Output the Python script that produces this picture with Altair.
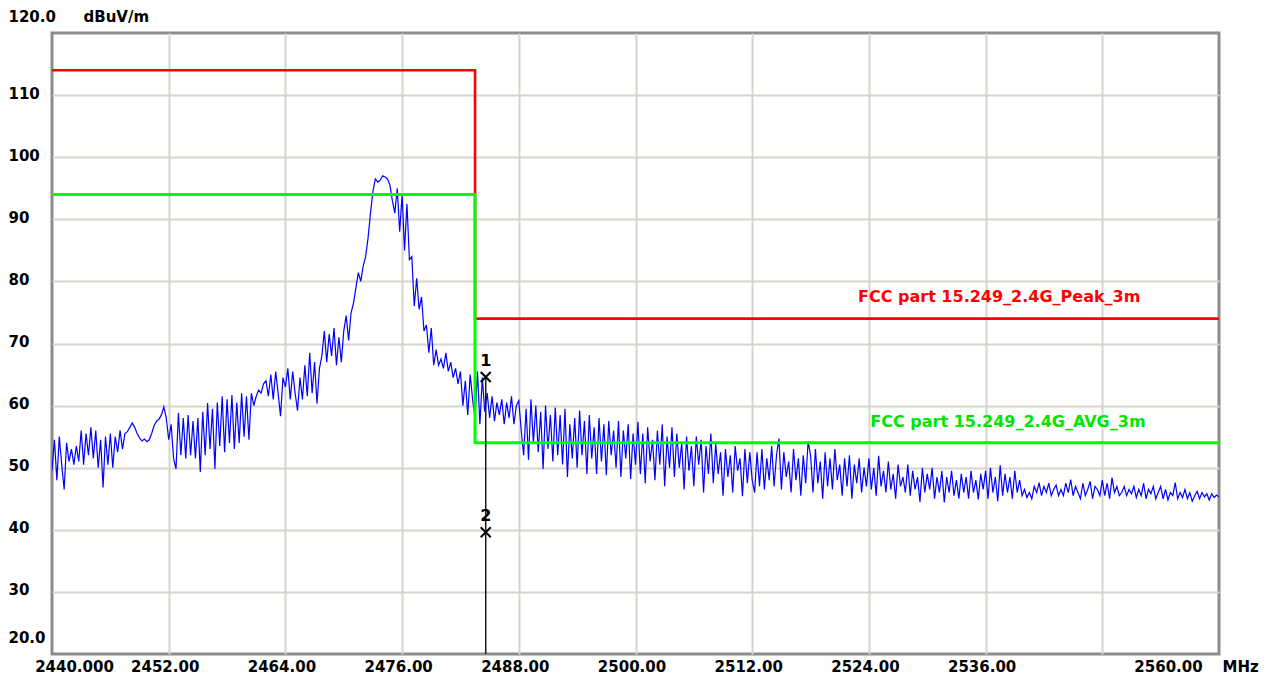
import altair as alt
import pandas as pd

# ---------------- data ----------------
f_start = 2440.0
f_step = 0.25
trace_db = [
    49.5, 54.5, 48.0, 55.0, 50.5, 46.5, 54.0, 51.0,   # 2440
    53.0, 50.5, 53.5, 51.0, 56.0, 50.5, 55.5, 52.0,   # 2442
    56.5, 51.5, 56.0, 50.0, 54.5, 46.8, 55.0, 50.5,   # 2444
    55.5, 50.0, 55.0, 52.5, 56.0, 53.0, 55.5, 55.8,   # 2446
    56.5, 57.2, 56.5, 55.5, 54.8, 54.3, 54.6, 54.2,   # 2448
    54.5, 55.5, 56.8, 57.5, 57.8, 58.5, 59.8, 58.0,   # 2450
    54.5, 57.0, 51.5, 49.8, 58.8, 52.0, 58.0, 51.5,   # 2452
    58.5, 52.0, 57.5, 51.5, 58.0, 49.3, 59.0, 52.0,   # 2454
    60.4, 53.0, 59.5, 49.8, 60.5, 53.5, 61.5, 52.5,   # 2456
    61.0, 54.0, 61.7, 53.0, 60.5, 54.0, 62.0, 55.0,   # 2458
    61.5, 54.5, 62.0, 60.0, 61.5, 62.5, 62.0, 63.5,   # 2460
    64.0, 61.5, 65.0, 61.0, 65.5, 62.0, 58.3, 64.5,   # 2462
    63.0, 66.0, 61.0, 65.5, 62.0, 59.2, 64.5, 61.0,   # 2464
    66.5, 61.5, 68.5, 62.0, 67.0, 60.3, 66.0, 68.0,   # 2466
    72.0, 67.0, 71.5, 68.0, 72.5, 66.5, 71.0, 67.0,   # 2468
    72.0, 74.5, 70.5, 74.9, 76.5, 79.0, 81.4, 80.0,   # 2470
    82.5, 84.0, 87.0, 91.0, 94.5, 96.5, 96.0, 96.3,   # 2472
    97.0, 96.8, 96.5, 95.5, 93.0, 91.0, 95.0, 88.0,   # 2474
    94.0, 85.0, 92.5, 83.5, 84.0, 76.0, 80.5, 75.5,   # 2476
    77.5, 72.0, 73.0, 68.5, 72.5, 66.5, 69.0, 66.5,   # 2478
    67.5, 66.0, 68.5, 65.5, 67.0, 64.5, 66.0, 63.5,   # 2480
    65.5, 60.0, 64.0, 58.5, 65.0, 61.0, 58.0, 65.5,   # 2482
    57.0, 64.5, 59.0, 62.0, 58.0, 61.5, 57.5, 60.5,   # 2484
    58.5, 61.0, 57.0, 60.5, 58.0, 61.5, 57.0, 60.0,   # 2486
    60.8, 56.0, 52.0, 59.5, 51.3, 61.0, 54.0, 60.0,   # 2488
    52.5, 59.0, 49.8, 60.0, 53.0, 58.5, 51.0, 59.7,   # 2490
    52.0, 58.5, 50.5, 59.5, 48.5, 57.0, 51.5, 58.0,   # 2492
    50.0, 59.2, 52.0, 57.5, 49.0, 58.5, 51.5, 56.5,   # 2494
    49.0, 58.0, 51.0, 57.0, 48.8, 57.5, 52.0, 56.0,   # 2496
    50.0, 57.5, 48.5, 56.0, 51.5, 57.0, 48.2, 55.5,   # 2498
    50.5, 57.4, 49.0, 55.5, 47.5, 56.5, 51.0, 54.5,   # 2500
    48.0, 56.0, 50.5, 57.0, 47.0, 55.0, 50.0, 56.5,   # 2502
    48.5, 55.5, 50.0, 54.0, 46.5, 55.0, 49.5, 53.5,   # 2504
    47.0, 55.0, 50.5, 54.5, 46.0, 53.5, 49.0, 55.5,   # 2506
    47.5, 53.8, 49.0, 52.5, 45.5, 53.0, 48.5, 52.0,   # 2508
    46.0, 53.5, 49.5, 51.5, 45.4, 53.0, 47.5, 52.5,   # 2510
    48.0, 46.0, 52.5, 47.0, 53.0, 46.5, 51.5, 48.0,   # 2512
    53.5, 47.0, 52.0, 54.7, 46.5, 52.5, 48.5, 51.0,   # 2514
    46.0, 53.0, 48.0, 51.5, 45.5, 52.0, 47.5, 54.3,   # 2516
    52.0, 46.0, 53.0, 47.5, 51.0, 45.0, 52.5, 47.0,   # 2518
    51.5, 46.5, 53.0, 48.0, 50.5, 45.5, 51.5, 47.0,   # 2520
    52.0, 45.0, 50.5, 47.5, 51.5, 46.0, 50.0, 47.0,   # 2522
    51.5, 46.5, 50.0, 45.5, 51.9, 47.0, 49.5, 46.0,   # 2524
    51.0, 46.5, 49.0, 45.0, 50.5, 47.0, 48.5, 46.0,   # 2526
    50.5, 45.5, 49.5, 46.5, 48.5, 44.5, 50.0, 46.0,   # 2528
    49.0, 46.5, 50.0, 45.0, 48.5, 46.0, 49.5, 44.4,   # 2530
    48.5, 46.0, 49.5, 45.5, 48.0, 45.0, 49.0, 46.0,   # 2532
    48.5, 45.0, 49.5, 46.0, 48.0, 44.9, 49.0, 46.5,   # 2534
    49.5, 45.0, 50.0, 46.0, 48.5, 44.6, 50.4, 45.5,   # 2536
    49.0, 46.0, 48.5, 45.0, 49.5, 46.0, 48.0, 45.5,   # 2538
    46.5, 45.2, 46.0, 45.0, 47.0, 46.0, 47.6, 45.5,   # 2540
    47.0, 46.0, 47.5, 45.5, 46.5, 47.2, 45.5, 46.5,   # 2542
    45.5, 47.5, 46.0, 48.1, 45.5, 47.0, 46.0, 45.0,   # 2544
    47.5, 45.5, 46.5, 47.8, 45.0, 47.0, 46.5, 45.5,   # 2546
    48.0, 45.5, 47.5, 45.0, 48.4, 46.0, 47.0, 45.5,   # 2548
    46.0, 47.0, 45.5, 46.5, 45.8, 47.0, 45.2, 46.5,   # 2550
    45.5, 47.5, 45.0, 46.5, 45.8, 47.0, 45.0, 46.0,   # 2552
    47.0, 45.0, 46.5, 44.8, 46.0, 45.5, 47.6, 45.0,   # 2554
    46.0, 45.2, 46.5, 45.0, 46.0, 44.6, 45.5, 46.2,   # 2556
    45.0, 46.0, 45.3, 45.8, 44.8, 45.8, 45.2, 45.6,   # 2558
    45.3,                                             # 2560
]

limit_f = [2440.0, 2483.5, 2483.5, 2560.0]
peak_limit_db = [114.0, 114.0, 74.0, 74.0]
avg_limit_db = [94.0, 94.0, 54.0, 54.0]

marker_f = [2484.6, 2484.6]
marker_db = [64.6, 39.6]
marker_lbl = ["1", "2"]

legend_lbl = ["FCC part 15.249_2.4G_Peak_3m", "FCC part 15.249_2.4G_AVG_3m"]
legend_f = [2537.4, 2538.3]
legend_db = [77.5, 57.4]
legend_col = ["#ff0000", "#00e600"]

x_ticks = [2440, 2452, 2464, 2476, 2488, 2500, 2512, 2524, 2536, 2548, 2560]
y_ticks = [20, 30, 40, 50, 60, 70, 80, 90, 100, 110, 120]

# ---------------- tables ----------------
trace_df = pd.DataFrame({
    "f": [f_start + i * f_step for i in range(len(trace_db))],
    "db": trace_db,
})
peak_df = pd.DataFrame({"f": limit_f, "db": peak_limit_db, "o": list(range(4))})
avg_df = pd.DataFrame({"f": limit_f, "db": avg_limit_db, "o": list(range(4))})
mk_df = pd.DataFrame({"f": marker_f, "db": marker_db, "lbl": marker_lbl})
rule_df = pd.DataFrame({"f": [marker_f[0]], "db": [marker_db[0]], "db2": [20.0]})
leg_df = pd.DataFrame({"f": legend_f, "db": legend_db, "lbl": legend_lbl, "c": legend_col})

FONT = "DejaVu Sans"

xaxis = alt.Axis(
    values=x_ticks,
    labelExpr="datum.value == 2440 ? '2440.000' : datum.value == 2548 ? '' : format(datum.value, '.2f')",
    labelOffset={"condition": [{"test": "datum.value == 2440", "value": 22},
                               {"test": "datum.value == 2560", "value": -51}],
                 "value": -4},
    labelFlush=False, labelOverlap=False, labelBound=False,
    labelBaseline="middle", labelPadding=12,
    labelFont=FONT, labelFontSize=15, labelFontWeight="bold", labelColor="#000000",
    ticks=False, tickSize=0, domain=False,
    grid=True, gridColor="#d8d4cc", gridWidth=2,
    gridOpacity={"condition": {"test": "datum.value == 2440 || datum.value == 2560", "value": 0}, "value": 1},
    title="MHz", titleX=1170, titleY=12, titleAlign="left", titleBaseline="middle",
    titleFont=FONT, titleFontSize=15, titleFontWeight="bold", titleColor="#000000",
    titleAnchor="start",
)
yaxis = alt.Axis(
    values=y_ticks,
    labelExpr="datum.value == 120 ? '120.0' : datum.value == 20 ? '20.0' : datum.label",
    labelOffset={"condition": {"test": "datum.value == 120 || datum.value == 20", "value": -17}, "value": -2},
    labelAlign="left", labelBaseline="middle", labelPadding=44,
    labelFlush=False, labelOverlap=False, labelBound=False,
    labelFont=FONT, labelFontSize=15, labelFontWeight="bold", labelColor="#000000",
    ticks=False, tickSize=0, domain=False,
    grid=True, gridColor="#d8d4cc", gridWidth=2,
    gridOpacity={"condition": {"test": "datum.value == 120 || datum.value == 20", "value": 0}, "value": 1},
    title="dBuV/m", titleAngle=0, titleX=31, titleY=-17, titleAlign="left", titleBaseline="middle",
    titleFont=FONT, titleFontSize=15, titleFontWeight="bold", titleColor="#000000",
)

xs = alt.Scale(domain=[2440, 2560], nice=False, zero=False)
ys = alt.Scale(domain=[20, 120], nice=False, zero=False)


def X():
    return alt.X("f:Q", scale=xs, axis=xaxis)


def Y():
    return alt.Y("db:Q", scale=ys, axis=yaxis)


trace = alt.Chart(trace_df).mark_line(color="#0000ff", strokeWidth=1.2, clip=True).encode(x=X(), y=Y())

peak = alt.Chart(peak_df).mark_line(color="#ff0000", strokeWidth=2.6).encode(
    x=X(), y=Y(), order="o:Q")
avg = alt.Chart(avg_df).mark_line(color="#00ff00", strokeWidth=3).encode(
    x=X(), y=Y(), order="o:Q")

rule = alt.Chart(rule_df).mark_rule(color="#1a1a1a", strokeWidth=1.5).encode(
    x=X(), y=Y(), y2="db2:Q")

marks = alt.Chart(mk_df).mark_point(
    shape="M-1,-1L1,1M-1,1L1,-1", size=100, filled=False, color="#000000",
    strokeWidth=2, opacity=1).encode(x=X(), y=Y())

mk_text = alt.Chart(mk_df).mark_text(
    font=FONT, fontSize=16, fontWeight="bold", color="#000000", dy=-16,
    align="center", baseline="middle").encode(x=X(), y=Y(), text="lbl:N")

leg_text = alt.Chart(leg_df).mark_text(
    font=FONT, fontSize=16, fontWeight="bold", align="center", baseline="middle").encode(
    x=X(), y=Y(), text="lbl:N", color=alt.Color("c:N", scale=None))

chart = alt.layer(trace, peak, avg, rule, marks, mk_text, leg_text).properties(
    width=1167, height=621,
    autosize=alt.AutoSizeParams(type="none"),
    padding={"left": 44, "top": 25, "right": 40, "bottom": 21},
    background="#ffffff",
).configure_view(
    stroke="#8c8c8c", strokeWidth=3
)

chart.save("out.html", embed_options={"renderer": "svg", "actions": False})
